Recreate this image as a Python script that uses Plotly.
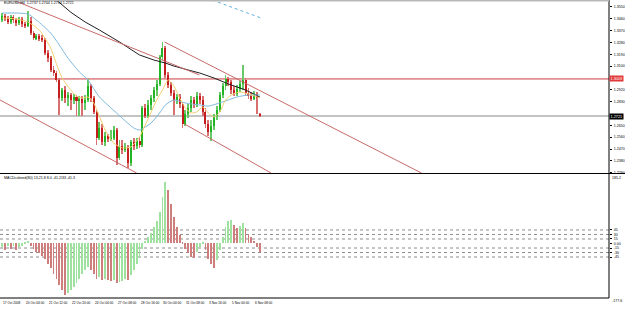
import plotly.graph_objects as go

symbol = "EURUSD,H4"

opens = [1.3451,1.3481,1.3466,1.3436,1.3474,1.3451,1.3428,1.3459,1.3421,1.3405,
         1.3443,1.3352,1.3314,1.3329,1.3307,1.3299,1.3200,1.3162,1.3071,1.3048,
         1.2995,1.2858,1.2919,1.2858,1.2881,1.2843,1.2866,1.2835,1.2851,1.2820,
         1.2843,1.2949,1.2858,1.2752,1.2554,1.2630,1.2524,1.2569,1.2547,1.2554,
         1.2615,1.2402,1.2493,1.2463,1.2486,1.2364,1.2524,1.2493,1.2531,1.2501,
         1.2782,1.2721,1.2805,1.2858,1.2919,1.2965,1.3170,1.3238,1.3033,1.2957,
         1.2896,1.2843,1.2866,1.2813,1.2661,1.2737,1.2782,1.2843,1.2813,1.2873,
         1.2843,1.2752,1.2661,1.2600,1.2645,1.2721,1.2767,1.2881,1.2949,1.3003,
         1.2980,1.2919,1.2889,1.2927,1.2965,1.2995,1.2896,1.2873,1.2851,1.2889,
         1.2737]
highs = [1.3504,1.3497,1.3481,1.3489,1.3489,1.3466,1.3474,1.3474,1.3436,1.3519,
         1.3474,1.3367,1.3345,1.3345,1.3337,1.3314,1.3223,1.3177,1.3101,1.3063,
         1.3010,1.2934,1.2949,1.2904,1.2896,1.2889,1.2881,1.2873,1.2873,1.2881,
         1.3003,1.2965,1.2873,1.2767,1.2676,1.2661,1.2600,1.2585,1.2615,1.2645,
         1.2630,1.2539,1.2539,1.2516,1.2501,1.2539,1.2554,1.2554,1.2562,1.2797,
         1.2813,1.2843,1.2881,1.2942,1.2995,1.3185,1.3284,1.3253,1.3056,1.2980,
         1.2919,1.2889,1.2889,1.2828,1.2767,1.2813,1.2873,1.2866,1.2904,1.2896,
         1.2873,1.2782,1.2691,1.2691,1.2737,1.2797,1.2904,1.2972,1.3033,1.3018,
         1.2995,1.2949,1.2957,1.2987,1.3109,1.3010,1.2934,1.2904,1.2911,1.2904,
         1.2744]
lows = [1.3436,1.3443,1.3421,1.3421,1.3428,1.3405,1.3413,1.3398,1.3390,1.3398,
        1.3337,1.3299,1.3299,1.3291,1.3284,1.3185,1.3132,1.3056,1.3025,1.2980,
        1.2729,1.2835,1.2820,1.2797,1.2767,1.2813,1.2721,1.2721,1.2721,1.2767,
        1.2828,1.2828,1.2737,1.2501,1.2539,1.2501,1.2493,1.2524,1.2531,1.2539,
        1.2349,1.2387,1.2433,1.2448,1.2326,1.2341,1.2463,1.2471,1.2478,1.2486,
        1.2706,1.2706,1.2767,1.2828,1.2873,1.2949,1.3147,1.3010,1.2934,1.2873,
        1.2729,1.2813,1.2782,1.2630,1.2645,1.2706,1.2752,1.2782,1.2790,1.2813,
        1.2721,1.2630,1.2569,1.2531,1.2615,1.2691,1.2752,1.2858,1.2919,1.2949,
        1.2889,1.2873,1.2873,1.2904,1.2919,1.2873,1.2851,1.2835,1.2843,1.2737,
        1.2714]
closes = [1.3481,1.3466,1.3436,1.3474,1.3451,1.3428,1.3459,1.3421,1.3405,1.3443,
          1.3352,1.3314,1.3329,1.3307,1.3299,1.3200,1.3162,1.3071,1.3048,1.2995,
          1.2858,1.2919,1.2858,1.2881,1.2843,1.2866,1.2835,1.2851,1.2820,1.2843,
          1.2949,1.2858,1.2752,1.2554,1.2630,1.2524,1.2569,1.2547,1.2554,1.2615,
          1.2402,1.2493,1.2463,1.2486,1.2364,1.2524,1.2493,1.2531,1.2501,1.2782,
          1.2721,1.2805,1.2858,1.2919,1.2965,1.3170,1.3238,1.3033,1.2957,1.2896,
          1.2843,1.2866,1.2813,1.2661,1.2737,1.2782,1.2843,1.2813,1.2873,1.2843,
          1.2752,1.2661,1.2600,1.2645,1.2721,1.2767,1.2881,1.2949,1.3003,1.2980,
          1.2919,1.2889,1.2927,1.2965,1.2995,1.2896,1.2873,1.2851,1.2889,1.2858,
          1.2721]

macd = [-13,-20,-10,-17,-7,-20,-13,-7,3,7,
        -7,-17,-27,-30,-40,-50,-67,-83,-100,-117,
        -139,-155,-170,-164,-155,-144,-131,-117,-102,-89,
        -78,-87,-100,-117,-111,-120,-117,-122,-124,-120,
        -131,-128,-124,-117,-120,-105,-89,-69,-47,-17,
        9,22,36,55,75,105,155,205,178,133,
        89,55,28,6,-17,-33,-44,-47,-28,-11,
        3,-22,-50,-69,-80,-55,-22,22,55,75,
        78,61,50,58,67,50,33,20,9,-11,
        -28]

yellow_bars = [0,5,9,13,17,19,21,24,26,28,30,32,36,39,42,45,48,50,54,56,58,60,62,64,66,68,70,72,74,76,78,80,83,86,90]
yellow_ma = [1.3466,1.3459,1.3436,1.3375,1.3238,1.3117,1.3010,1.2919,1.2873,1.2858,
             1.2866,1.2820,1.2615,1.2516,1.2478,1.2486,1.2562,1.2653,1.2843,1.2919,
             1.2995,1.2949,1.2858,1.2782,1.2744,1.2752,1.2790,1.2744,1.2714,1.2752,
             1.2843,1.2881,1.2904,1.2889,1.2858]
blue_bars = [0,5,9,12,17,20,23,27,30,34,40,46,48,52,55,57,60,64,69,72,77,82,86,90]
blue_ma = [1.3504,1.3504,1.3497,1.3451,1.3352,1.3261,1.3162,1.3056,1.2995,1.2866,
           1.2744,1.2630,1.2615,1.2668,1.2744,1.2805,1.2843,1.2820,1.2805,1.2797,
           1.2828,1.2866,1.2881,1.2881]
black_bars = [10,19,24,29,34,41,48,53,57,60,65,69,74,79,85,90]
black_ma = [1.3740,1.3603,1.3510,1.3436,1.3375,1.3284,1.3185,1.3147,1.3124,1.3101,
            1.3071,1.3048,1.3010,1.2965,1.2919,1.2866]
cyan_bars = [73.4, 90.4]
cyan_line = [1.3603, 1.3466]

channel_lines = {
    "big_upper": ([3.8, 68.9], [1.3603, 1.3033]),
    "big_lower": ([-0.7, 47.0], [1.2843, 1.2288]),
    "small_upper": ([56.7, 146.4], [1.3284, 1.2288]),
    "small_lower": ([63.7, 93.9], [1.2661, 1.2288]),
}
resistance_level = 1.3003

price_ticks = [1.3550, 1.3460, 1.3370, 1.3280, 1.3190, 1.3100, 1.2920,
               1.2830, 1.2650, 1.2560, 1.2470, 1.2380, 1.2290]
macd_levels = [45, 30, 15, -15, -30, -45]
macd_ticks = [45, 30, 15, 0, -15, -30, -45]
macd_ticktext = ["45", "30", "15", "0.00", "-15", "-30", "-45"]
macd_max_label = "185.2"
macd_min_label = "-177.6"
macd_title = "MACDcolored(80) 13,21,8 8.0 -41.2/33 -41.3"

date_label_bars = [0, 8, 16, 24, 32, 40, 48, 56, 64, 72, 80, 88]
date_labels = ["17 Oct 2008", "20 Oct 04:00", "21 Oct 12:00", "22 Oct 20:00",
               "24 Oct 04:00", "27 Oct 08:00", "28 Oct 16:00", "30 Oct 00:00",
               "31 Oct 08:00", "3 Nov 16:00", "5 Nov 00:00", "6 Nov 08:00"]

# ---------------------------------------------------------------
n = len(closes)
bars = list(range(n))
up = [c >= o for o, c in zip(opens, closes)]
body_base = [min(o, c) for o, c in zip(opens, closes)]
body_len = [max(abs(c - o), 0.00007) for o, c in zip(opens, closes)]
wick_len = [h - l for h, l in zip(highs, lows)]
body_col = ['#22b422' if u else '#c41e1e' for u in up]
wick_col = ['#66c866' if u else '#d87070' for u in up]

macd_col = []
for k, v in enumerate(macd):
    prev = macd[k - 1] if k > 0 else v
    macd_col.append('#9fe29f' if v >= prev else '#cf7e7e')

FONT = "Liberation Sans"
fig = go.Figure()

# candles
fig.add_trace(go.Bar(x=bars, base=lows, y=wick_len, width=0.3,
                     marker=dict(color=wick_col, line_width=0), xaxis='x', yaxis='y'))
fig.add_trace(go.Bar(x=bars, base=body_base, y=body_len, width=0.7,
                     marker=dict(color=body_col, line_width=0), xaxis='x', yaxis='y'))

# moving averages
fig.add_trace(go.Scatter(x=black_bars, y=black_ma, mode='lines', line=dict(color='#202020', width=1)))
fig.add_trace(go.Scatter(x=blue_bars, y=blue_ma, mode='lines', line=dict(color='#7fb9dc', width=1, shape='spline', smoothing=0.6)))
fig.add_trace(go.Scatter(x=yellow_bars, y=yellow_ma, mode='lines', line=dict(color='#f2cf72', width=1, shape='spline', smoothing=0.6)))
fig.add_trace(go.Scatter(x=cyan_bars, y=cyan_line, mode='lines', line=dict(color='#5fb0d8', width=1, dash='dot')))

# channel lines
for name, (xs, ys) in channel_lines.items():
    fig.add_trace(go.Scatter(x=xs, y=ys, mode='lines', line=dict(color='#c86a6a', width=1)))

# MACD histogram
fig.add_trace(go.Bar(x=bars, y=macd, width=0.3, marker=dict(color=macd_col, line_width=0),
                     xaxis='x2', yaxis='y2'))

shapes = []
shapes.append(dict(type='line', xref='paper', x0=0, x1=1, yref='y', y0=resistance_level, y1=resistance_level,
                   line=dict(color='#c83c3c', width=1), layer='below'))
shapes.append(dict(type='line', xref='paper', x0=0, x1=1, yref='y', y0=closes[-1], y1=closes[-1],
                   line=dict(color='#c4c4c4', width=2), layer='below'))
for lv in macd_levels:
    shapes.append(dict(type='line', xref='paper', x0=0, x1=1, yref='y2', y0=lv, y1=lv,
                       line=dict(color='#8c8c8c', width=1, dash='dot'), layer='below'))
# frame
shapes.append(dict(type='line', xref='paper', yref='paper', x0=1, x1=1, y0=0, y1=1.004, line=dict(color='#000', width=1)))
shapes.append(dict(type='line', xref='paper', yref='paper', x0=0, x1=1.05, y0=0.4192, y1=0.4192, line=dict(color='#000', width=1)))
shapes.append(dict(type='line', xref='paper', yref='paper', x0=0, x1=1, y0=0, y1=0, line=dict(color='#000', width=1)))
shapes.append(dict(type='line', xref='paper', yref='paper', x0=0, x1=1, y0=1.0017, y1=1.0017, line=dict(color='#b8b8b8', width=2)))

ann = []
ann.append(dict(xref='paper', yref='paper', x=0.003, y=0.9935, xanchor='left', yanchor='middle', showarrow=False,
                text=f"{symbol}  {opens[-1]:.4f} {highs[-1]:.4f} {lows[-1]:.4f} {closes[-1]:.4f}",
                font=dict(family=FONT, size=3.6, color='#000')))
ann.append(dict(xref='paper', yref='paper', x=0.003, y=0.404, xanchor='left', yanchor='middle', showarrow=False,
                text=macd_title, font=dict(family=FONT, size=3.6, color='#000')))
for b, t in zip(date_label_bars, date_labels):
    ann.append(dict(xref='x2', yref='paper', x=b, y=-0.017, xanchor='left', yanchor='middle', showarrow=False,
                    text=t, font=dict(family=FONT, size=3.2, color='#000'), borderpad=0))
ann.append(dict(xref='paper', yref='y', x=1.0, y=resistance_level, xanchor='left', yanchor='middle', showarrow=False,
                text=f"{resistance_level:.4f}", bgcolor='#e23a3a', font=dict(family=FONT, size=3.8, color='#fff'), borderpad=0.6))
ann.append(dict(xref='paper', yref='y', x=1.0, y=closes[-1], xanchor='left', yanchor='middle', showarrow=False,
                text=f"{closes[-1]:.4f}", bgcolor='#000', font=dict(family=FONT, size=3.8, color='#fff'), borderpad=0.6))
ann.append(dict(xref='paper', yref='paper', x=1.004, y=0.404, xanchor='left', yanchor='middle', showarrow=False,
                text=macd_max_label, font=dict(family=FONT, size=3.6, color='#000'), borderpad=0))
ann.append(dict(xref='paper', yref='paper', x=1.004, y=-0.01, xanchor='left', yanchor='middle', showarrow=False,
                text=macd_min_label, font=dict(family=FONT, size=3.6, color='#000'), borderpad=0))

xr = [-0.6957, 211.83]
fig.update_layout(
    width=625, height=309, margin=dict(l=0, r=14, t=1, b=11),
    paper_bgcolor='white', plot_bgcolor='white', showlegend=False,
    barmode='overlay', bargap=0,
    shapes=shapes, annotations=ann,
    xaxis=dict(domain=[0, 1], range=xr, anchor='y', showticklabels=False, showgrid=False, zeroline=False, ticks=''),
    xaxis2=dict(domain=[0, 1], range=xr, anchor='y2', matches='x', showticklabels=False, showgrid=False, zeroline=False, ticks=''),
    yaxis=dict(domain=[0.4209, 1], range=[1.22882, 1.35954], side='right', anchor='x',
               tickvals=price_ticks, ticktext=[f"{v:.4f}" for v in price_ticks],
               showgrid=False, zeroline=False, ticks='outside', ticklen=2, tickcolor='#000',
               ticklabelstandoff=1, tickfont=dict(family=FONT, size=3.6, color='#000')),
    yaxis2=dict(domain=[0, 0.4175], range=[-181.5, 231.4], side='right', anchor='x2',
                tickvals=macd_ticks, ticktext=macd_ticktext,
                showgrid=False, zeroline=False, ticks='outside', ticklen=2, tickcolor='#000',
                ticklabelstandoff=1, tickfont=dict(family=FONT, size=3.6, color='#000')),
)

fig.write_html("out.html")
